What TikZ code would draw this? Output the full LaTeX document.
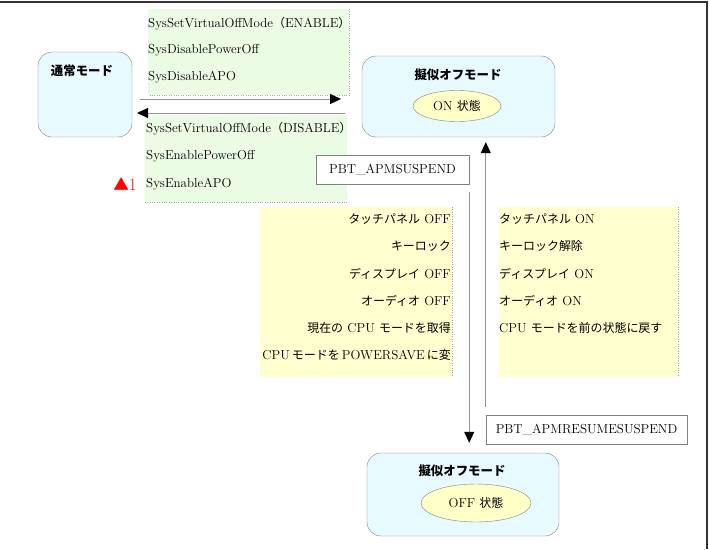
\documentclass[tikz,border=0pt]{standalone}
\usepackage{fontspec}
\usepackage{tikz}
\usetikzlibrary{positioning,arrows.meta,shapes.geometric}
\newfontfamily\jp[Scale=0.92]{Noto Sans CJK JP}
\newcommand\ja[1]{{\jp #1}}
\definecolor{modecyan}{RGB}{230,250,255}
\definecolor{callgreen}{RGB}{234,252,228}
\definecolor{stepyellow}{RGB}{255,255,208}
\definecolor{ovalyellow}{RGB}{255,255,200}

\begin{document}
\begin{tikzpicture}[x=1pt,y=-1pt,>={Triangle[length=11pt,width=10pt,black]},font=\fontsize{13}{15}\selectfont]
\tikzstyle{mode}=[draw=gray,fill=modecyan,rounded corners=14pt,inner sep=0pt]
\tikzstyle{title}=[inner sep=0pt,font=\fontsize{13.5}{15}\selectfont\jp\bfseries]
\tikzstyle{oval}=[ellipse,draw=gray,fill=ovalyellow,inner sep=0pt]
\tikzstyle{callbox}=[fill=callgreen,inner sep=0pt]
\tikzstyle{stepbox}=[fill=stepyellow,inner sep=0pt]
\tikzstyle{event}=[draw=gray,fill=white,inner sep=0pt]
\tikzstyle{line}=[inner sep=0pt]
\tikzstyle{dotline}=[gray!70,dotted]
\tikzstyle{arr}=[->,draw=gray!85,line width=1pt]

\useasboundingbox (0,0) rectangle (709,549);
\draw[line width=1.2pt,black!80] (0,2) -- (707,2) -- (707,549);

% modes
\node[mode,minimum width=94pt,minimum height=85pt] (m0) at (85,94.5) {};
\node[title] (m0t) at (82,71) {通常モード};
\node[mode,minimum width=193pt,minimum height=81pt] (m1) at (458.5,96.5) {};
\node[title] (m1t) at (458,75) {擬似オフモード};
\node[oval,minimum width=88pt,minimum height=31pt] (e1) at (457,106) {ON \ja{状態}};
\node[mode,minimum width=192pt,minimum height=83pt] (m2) at (463,494.5) {};
\node[title] (m2t) at (462,471) {擬似オフモード};
\node[oval,minimum width=110pt,minimum height=38pt] (e2) at (476,503) {OFF \ja{状態}};

% API calls
\node[callbox,minimum width=201pt,minimum height=86pt] (g0) at (248.5,52) {};
\draw[dotline] (g0.north east) -- (g0.south east) -- (g0.south west);
\node[callbox,minimum width=202pt,minimum height=87pt] (g1) at (246,158.5) {};
\draw[dotline] (g1.south west) -- (g1.south east);
\foreach \t [count=\i] in {{SysSetVirtualOffMode\ja{（}ENABLE\ja{）}},{SysDisablePowerOff},{SysDisableAPO}}
  \node[line,anchor=west] (ga\i) at (148,{24+26.5*(\i-1)}) {\t};
\foreach \t [count=\i] in {{SysSetVirtualOffMode\ja{（}DISABLE\ja{）}},{SysEnablePowerOff},{SysEnableAPO}}
  \node[line,anchor=west] (gb\i) at (146,{129+27.5*(\i-1)}) {\t};
\node[line,anchor=east,text=red,font=\fontsize{17}{19}\selectfont] (w1) at (137,184) {\ja{▲}1};

% steps
\node[stepbox,minimum width=192pt,minimum height=170pt] (y0) at (356,292) {};
\draw[dotline] (y0.north east) -- (y0.south east);
\node[stepbox,minimum width=179pt,minimum height=170pt] (y1) at (588.5,292) {};
\draw[dotline] (y1.north east) -- (y1.south east);
\foreach \t [count=\i] in {{\ja{タッチパネル} OFF},{\ja{キーロック}},{\ja{ディスプレイ} OFF},{\ja{オーディオ} OFF},{\ja{現在の} CPU \ja{モードを取得}},{CPU\,\ja{モードを}\,POWERSAVE\,\ja{に変}}}
  \node[line,anchor=east] (ya\i) at (451,{219+27.2*(\i-1)}) {\t};
\foreach \t [count=\i] in {{\ja{タッチパネル} ON},{\ja{キーロック解除}},{\ja{ディスプレイ} ON},{\ja{オーディオ} ON},{CPU \ja{モードを前の状態に戻す}}}
  \node[line,anchor=west] (yb\i) at (499,{219+27.2*(\i-1)}) {\t};

% events
\node[event,minimum width=153pt,minimum height=29pt] (s1) at (392.5,169.5) {PBT\_APMSUSPEND};
\node[event,minimum width=201pt,minimum height=29pt] (s2) at (586.5,429.5) {PBT\_APMRESUMESUSPEND};

% transitions
\coordinate (a0) at (140,99);
\coordinate (a1) at (341,99);
\coordinate (b0) at (345,113);
\coordinate (b1) at (137,113);
\draw[arr] (a0) -- (a1);
\draw[arr] (b0) -- (b1);
\draw[arr] ([yshift=-8pt]s1.south east) -- ([yshift=10pt]s1.south east |- m2.north);
\draw[arr] ([yshift=8pt]s2.north west) -- ([yshift=-5pt]s2.north west |- m1.south);
\end{tikzpicture}
\end{document}
